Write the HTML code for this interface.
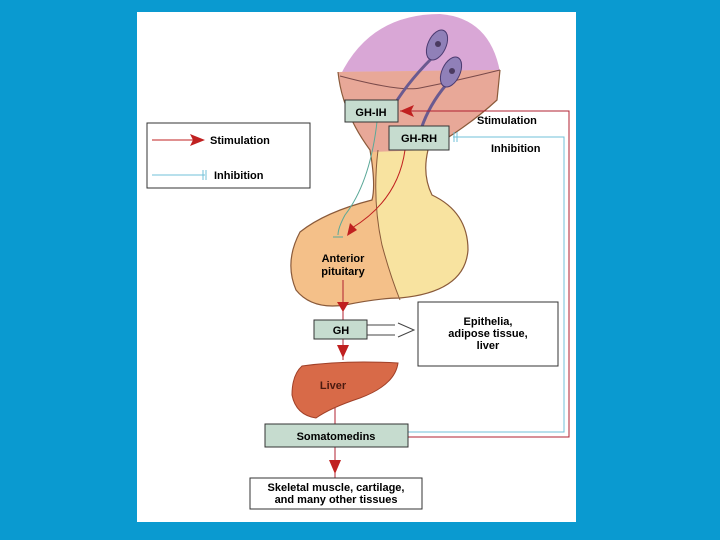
<!DOCTYPE html>
<html><head><style>
body{margin:0;background:#0a9ad0;}
svg{display:block;font-family:"Liberation Sans",sans-serif;font-weight:bold;}
</style></head><body>
<svg width="720" height="540" viewBox="0 0 720 540">
<defs>
<clipPath id="pit"><path d="M338,72 Q342,112 370,150 Q376,185 372,200 Q325,212 300,232 Q284,262 296,290 Q312,310 345,305 Q380,298 400,298 Q465,292 468,250 Q468,212 432,195 Q422,175 428,150 Q470,125 497,100 L500,70 Z"/></clipPath>
</defs>
<rect x="0" y="0" width="720" height="540" fill="#0a9ad0"/>
<rect x="137" y="12" width="439" height="510" fill="#fff"/>
<path d="M340,76 Q370,14 440,14 Q490,18 500,72 Z" fill="#d9a7d6"/>
<g clip-path="url(#pit)">
<rect x="280" y="60" width="230" height="260" fill="#f4c089"/>
<path d="M378,150 Q372,200 382,245 Q390,275 400,300 L480,300 L480,150 Z" fill="#f8e3a0"/>
<path d="M330,60 L510,60 L510,100 Q470,135 430,150 L370,152 Q345,125 330,100 Z" fill="#e8a898"/>
</g>
<path d="M340,76 Q400,92 420,88 Q460,80 500,70" fill="none" stroke="#7a4a4a" stroke-width="1"/>
<path d="M338,72 Q342,112 370,150 Q376,185 372,200 Q325,212 300,232 Q284,262 296,290 Q312,310 345,305 Q380,298 400,298 Q465,292 468,250 Q468,212 432,195 Q422,175 428,150 Q470,125 497,100 L500,70" fill="none" stroke="#8a5a3a" stroke-width="1.2"/>
<path d="M378,150 Q372,200 382,245 Q390,275 400,300" fill="none" stroke="#8a5a3a" stroke-width="1"/>
<!-- neurons -->
<path d="M432,58 Q405,85 390,112 M446,85 Q425,110 418,140" fill="none" stroke="#6a5a90" stroke-width="3"/>
<ellipse cx="437" cy="45" rx="9" ry="16" fill="#9080b8" stroke="#4a3a70" transform="rotate(25 437 45)"/>
<ellipse cx="451" cy="72" rx="9" ry="16" fill="#9080b8" stroke="#4a3a70" transform="rotate(25 451 72)"/>
<circle cx="438" cy="44" r="3" fill="#4a3a60"/><circle cx="452" cy="71" r="3" fill="#4a3a60"/>
<!-- connectors -->
<path d="M378,112 Q372,180 345,215 Q338,228 338,235" fill="none" stroke="#5aa898" stroke-width="1"/>
<path d="M333,237 L343,237" stroke="#5aa898"/>
<path d="M405,150 Q398,200 352,228" fill="none" stroke="#c02020" stroke-width="1"/>
<path d="M350,223 L347,236 L357,230 Z" fill="#c02020"/>
<!-- boxes -->
<rect x="345" y="100" width="53" height="22" fill="#c6dccf" stroke="#333"/>
<text x="371" y="116" font-size="11" text-anchor="middle">GH-IH</text>
<rect x="389" y="126" width="60" height="24" fill="#c6dccf" stroke="#333"/>
<text x="419" y="142" font-size="11" text-anchor="middle">GH-RH</text>
<path d="M400,111 L569,111 L569,437 L408,437" fill="none" stroke="#b02030" stroke-width="1"/>
<path d="M400,111 L414,105 L411,111 L414,117 Z" fill="#c02020"/>
<path d="M453,137 L564,137 L564,432 L408,432" fill="none" stroke="#70c0d8" stroke-width="1"/>
<path d="M454,132 L454,142 M457,132 L457,142" stroke="#70c0d8"/>
<text x="477" y="124" font-size="11">Stimulation</text>
<text x="491" y="152" font-size="11">Inhibition</text>
<rect x="147" y="123" width="163" height="65" fill="#fff" stroke="#333"/>
<path d="M152,140 L200,140" stroke="#c02020"/>
<path d="M205,140 L190,134 L193,140 L190,146 Z" fill="#c02020"/>
<text x="210" y="144" font-size="11">Stimulation</text>
<path d="M152,175 L205,175" stroke="#70c0d8"/>
<path d="M203,170 L203,180 M206,170 L206,180" stroke="#70c0d8"/>
<text x="214" y="179" font-size="11">Inhibition</text>
<text x="343" y="262" font-size="11" text-anchor="middle">Anterior</text>
<text x="343" y="275" font-size="11" text-anchor="middle">pituitary</text>
<path d="M343,280 L343,320 M343,339 L343,360 M335,400 L335,478" stroke="#b02030"/>
<path d="M337,302 L349,302 L343,312 Z M337,345 L349,345 L343,358 Z M329,460 L341,460 L335,474 Z" fill="#c02020"/>
<rect x="314" y="320" width="53" height="19" fill="#c6dccf" stroke="#333"/>
<text x="341" y="334" font-size="11" text-anchor="middle">GH</text>
<path d="M367,325 L395,325 M367,335 L395,335 M398,323 L414,330 L398,337" fill="none" stroke="#444"/>
<rect x="418" y="302" width="140" height="64" fill="#fff" stroke="#333"/>
<text x="488" y="325" font-size="11" text-anchor="middle">Epithelia,</text>
<text x="488" y="337" font-size="11" text-anchor="middle">adipose tissue,</text>
<text x="488" y="349" font-size="11" text-anchor="middle">liver</text>
<path d="M302,366 Q345,360 398,363 Q395,385 360,398 Q330,408 316,418 Q296,415 292,395 Q292,375 302,366 Z" fill="#d86a48" stroke="#a04028"/>
<text x="333" y="389" font-size="11" text-anchor="middle" fill="#4a1a10">Liver</text>
<rect x="265" y="424" width="143" height="23" fill="#c6dccf" stroke="#333"/>
<text x="336" y="440" font-size="11" text-anchor="middle">Somatomedins</text>
<rect x="250" y="478" width="172" height="31" fill="#fff" stroke="#333"/>
<text x="336" y="491" font-size="11" text-anchor="middle">Skeletal muscle, cartilage,</text>
<text x="336" y="503" font-size="11" text-anchor="middle">and many other tissues</text>
</svg>
</body></html>
